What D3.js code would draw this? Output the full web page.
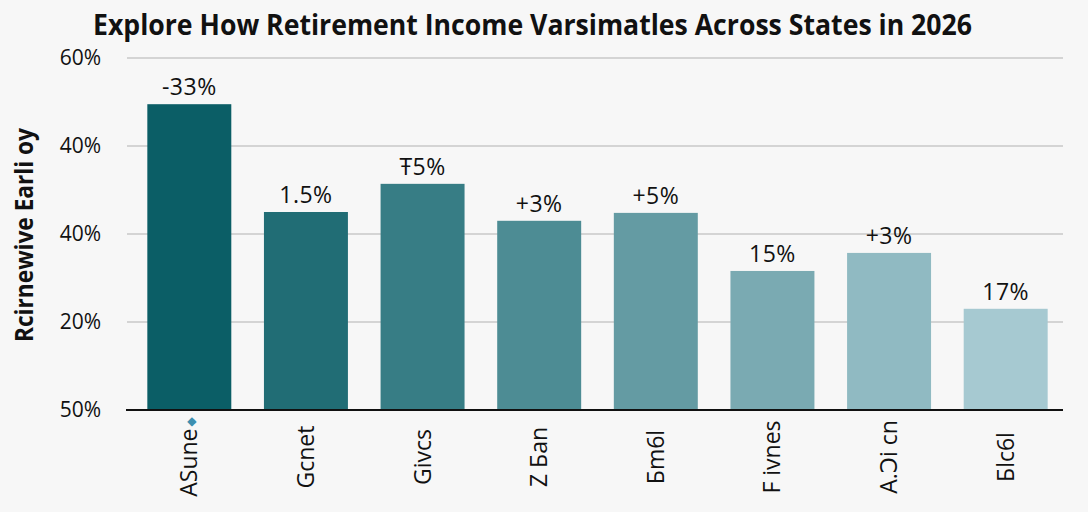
<!DOCTYPE html>
<html>
<head>
<meta charset="utf-8">
<script src="https://cdnjs.cloudflare.com/ajax/libs/d3/7.8.5/d3.min.js"></script>
<style>
  body { margin: 0; background: #f7f7f7; }
  svg { display: block; }
</style>
</head>
<body>
<script>
// chart data
const categories = ["ASune", "Gcnet", "Givcs", "Z Бan", "Бm6l", "F ivnes", "A.Ͻi cn", "Бlc6l"]
const values = [69.5, 45, 51.4, 43, 44.8, 31.6, 35.7, 23]
const valueLabels = ["-33%", "1.5%", "Ŧ5%", "+3%", "+5%", "15%", "+3%", "17%"]
const tickValues = [0, 20, 40, 60, 80]
const tickLabels = ["50%", "20%", "40%", "40%", "60%"]

const width = 1088,
    height = 512

const svg = d3.select("body").append("svg")
    .attr("width", width)
    .attr("height", height)

const font = "'Open Sans', 'DejaVu Sans', sans-serif"

const x = d3.scaleBand()
    .domain(categories)
    .range([124, 1071])
    .paddingInner(0.28)
    .paddingOuter(0.2)

const y = d3.scaleLinear()
    .domain([0, 80])
    .range([410, 58])

const color = d3.scaleLinear()
    .domain([0, categories.length - 1])
    .range(["#0b5e66", "#a6c9d1"])

// gridlines
svg.append("g")
    .selectAll("line")
    .data(tickValues.slice(1))
    .join("line")
    .attr("x1", 127)
    .attr("x2", 1063)
    .attr("y1", d => y(d))
    .attr("y2", d => y(d))
    .attr("stroke", "#c9c9c9")
    .attr("stroke-width", 1.5)

// y axis labels
const yAxis = d3.axisLeft(y)
    .tickValues(tickValues)
    .tickFormat((d, i) => tickLabels[i])
    .tickSize(0)
    .tickPadding(0)

svg.append("g")
    .attr("transform", "translate(101,0)")
    .call(yAxis)
    .call(g => g.select(".domain").remove())
    .selectAll("text")
    .attr("font-family", font)
    .attr("font-size", 21)
    .attr("fill", "#111")

// bars
svg.append("g")
    .selectAll("rect")
    .data(values)
    .join("rect")
    .attr("x", (d, i) => x(categories[i]))
    .attr("y", d => y(d))
    .attr("width", x.bandwidth())
    .attr("height", d => y(0) - y(d))
    .attr("fill", (d, i) => color(i))

// value labels
svg.append("g")
    .selectAll("text")
    .data(values)
    .join("text")
    .attr("x", (d, i) => x(categories[i]) + x.bandwidth() / 2)
    .attr("y", d => y(d) - 9)
    .attr("text-anchor", "middle")
    .attr("font-family", font)
    .attr("font-size", 23)
    .attr("letter-spacing", 0.5)
    .attr("fill", "#111")
    .text((d, i) => valueLabels[i])

// baseline
svg.append("line")
    .attr("x1", 126)
    .attr("x2", 1063)
    .attr("y1", y(0))
    .attr("y2", y(0))
    .attr("stroke", "#111")
    .attr("stroke-width", 2)

// x labels, rotated
const xLabels = svg.append("g")
    .selectAll("text")
    .data(categories)
    .join("text")
    .attr("transform", d => `translate(${x(d) + x.bandwidth() / 2 + 8},457) rotate(-90)`)
    .attr("text-anchor", "middle")
    .attr("font-family", font)
    .attr("font-size", 23)
    .attr("font-weight", 500)
    .attr("fill", "#111")
    .text(d => d)

xLabels.filter((d, i) => i === 0)
    .append("tspan")
    .attr("fill", "#3d8fb0")
    .attr("font-size", 12)
    .attr("dy", -2)
    .attr("dx", 2)
    .text("◆")

// title
svg.append("text")
    .attr("x", 93)
    .attr("y", 35)
    .attr("font-family", font)
    .attr("font-size", 28)
    .attr("font-weight", 700)
    .attr("fill", "#111")
    .attr("textLength", 879)
    .attr("lengthAdjust", "spacingAndGlyphs")
    .text("Explore How Retirement Income Varsimatles Across States in 2026")

// y axis title
svg.append("text")
    .attr("transform", "translate(33,235) rotate(-90)")
    .attr("text-anchor", "middle")
    .attr("font-family", font)
    .attr("font-size", 25)
    .attr("font-weight", 700)
    .attr("fill", "#111")
    .attr("textLength", 214)
    .attr("lengthAdjust", "spacingAndGlyphs")
    .text("Rcirnewive Earli oy")
</script>
</body>
</html>
